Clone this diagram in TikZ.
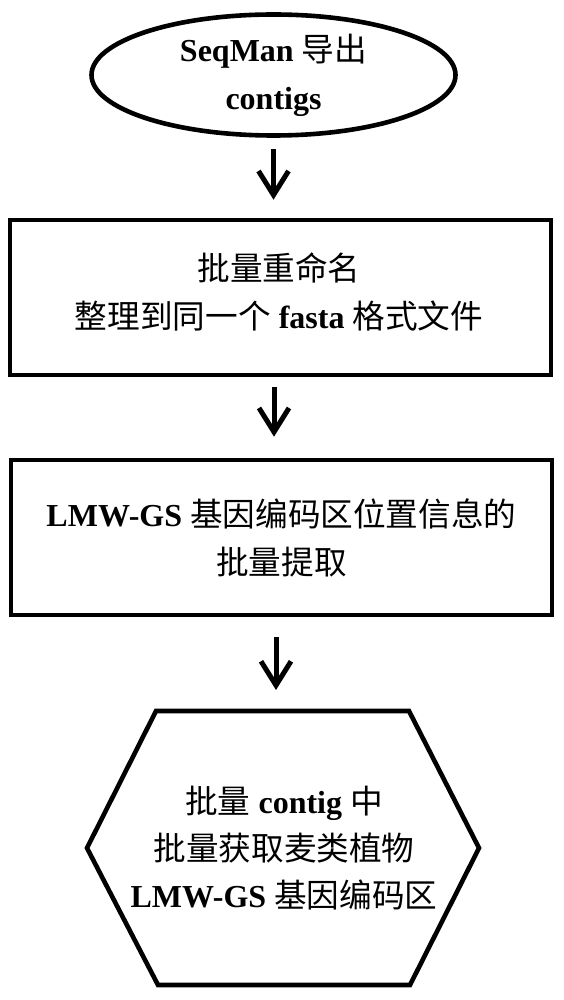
\documentclass[tikz,border=0pt]{standalone}
\usepackage{fontspec}
\setmainfont{Liberation Serif}
\newfontfamily\cjkfont{Noto Sans CJK SC}[Scale=1.02]
\newcommand{\zh}[1]{{\cjkfont\mdseries #1}}
\usetikzlibrary{arrows.meta,shapes.geometric}
\begin{document}
\begin{tikzpicture}[x=1pt,y=-1pt,
  every node/.style={font=\fontsize{32}{48}\selectfont\bfseries, align=center, inner sep=0pt},
  frame/.style={draw=black, line width=4.6pt},
  flow/.style={draw=black, line width=5pt, -{Straight Barb[length=24pt,width=30pt]}}]
\fill[white] (0,0) rectangle (564,1000);
\useasboundingbox (0,0) rectangle (564,1000);

\node[frame, ellipse, minimum width=364pt, minimum height=121pt] (start) at (273.5,75)
  {SeqMan \zh{导出}\\contigs};
\node[frame, rectangle, minimum width=541pt, minimum height=155pt] (rename) at (280.5,297.5) {};
\node (renametext) at (279,292)
  {\zh{批量重命名}\\\zh{整理到同一个} fasta \zh{格式文件}};
\node[frame, rectangle, minimum width=541pt, minimum height=155pt] (extract) at (281.5,537.5)
  {LMW-GS \zh{基因编码区位置信息的}\\\zh{批量提取}};

\coordinate (h1) at (156,711);
\coordinate (h2) at (409,711);
\coordinate (h3) at (479,848);
\coordinate (h4) at (410,985);
\coordinate (h5) at (158,985);
\coordinate (h6) at (87,848);
\coordinate (hextop) at (276,711);
\draw[frame] (h1) -- (h2) -- (h3) -- (h4) -- (h5) -- (h6) -- cycle;
\node[font=\fontsize{32}{47}\selectfont\bfseries] (result) at (284,848)
  {\zh{批量} contig \zh{中}\\\zh{批量获取麦类植物}\\LMW-GS \zh{基因编码区}};

\draw[flow, shorten <=11.5pt, shorten >=18pt] (start.south) -- (start.south |- rename.north);
\draw[flow, shorten <=10pt, shorten >=21pt] ([xshift=-6.5pt]rename.south) -- ([xshift=-7.5pt]extract.north);
\draw[flow, shorten <=20pt, shorten >=21pt] ([xshift=-5.5pt]extract.south) -- (hextop);
\end{tikzpicture}
\end{document}
